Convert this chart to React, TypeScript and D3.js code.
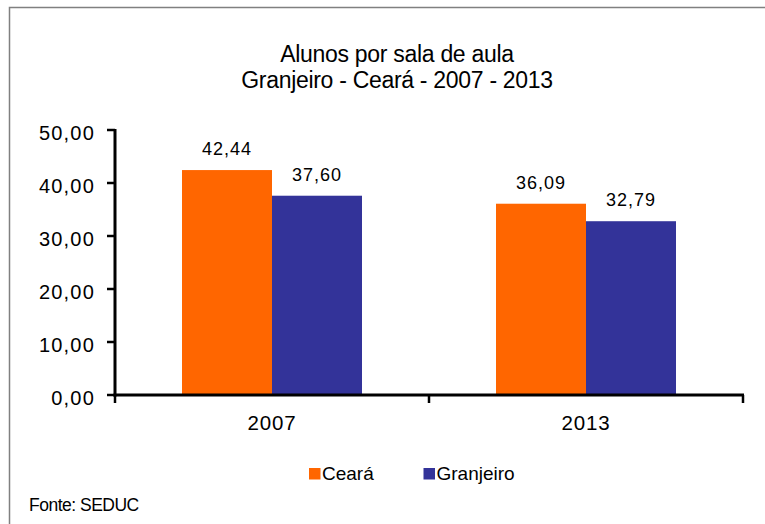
import React from "react";
import * as d3 from "d3";

const categories = ["2007", "2013"];
const seriesNames = ["Ceará", "Granjeiro"];
const cearaValues = [42.44, 36.09];
const granjeiroValues = [37.6, 32.79];
const yTicks = [0, 10, 20, 30, 40, 50];
const colors = ["#FF6600", "#333399"];
const titleLines = ["Alunos por sala de aula", "Granjeiro - Ceará - 2007 - 2013"];
const source = "Fonte: SEDUC";

const fmt = (v: number) => v.toFixed(2).replace(".", ",");

export default function App() {
  const W = 765, H = 524;
  const x0 = 115, x1 = 743, yTop = 130, yBot = 395;
  const y = d3.scaleLinear().domain([0, 50]).range([yBot, yTop]);
  const xBand = d3.scaleBand<string>().domain(categories).range([x0, x1]).paddingInner(0).paddingOuter(0);
  const groupW = 180;
  const xSub = d3.scaleBand<string>().domain(seriesNames).range([0, groupW]).padding(0);
  const values = [cearaValues, granjeiroValues];
  const font = "'Liberation Sans', Arial, sans-serif";

  return (
    <svg width={W} height={H} style={{ position: "absolute", left: 0, top: 0, background: "#fff" }} fontFamily={font}>
      <rect x={0} y={0} width={W} height={H} fill="#fff" />
      <path d="M9.5,530 L9.5,7.5 L770,7.5" fill="none" stroke="#808080" strokeWidth={1.5} />
      {titleLines.map((t, i) => (
        <text key={i} x={397} y={62 + i * 26} textAnchor="middle" fontSize={23} letterSpacing={-0.3} fill="#000">
          {t}
        </text>
      ))}
      {/* bars */}
      {categories.map((c, ci) => {
        const gx = (xBand(c) as number) + xBand.bandwidth() / 2 - groupW / 2;
        return seriesNames.map((s, si) => {
          const v = values[si][ci];
          const bx = gx + (xSub(s) as number);
          return (
            <g key={c + s}>
              <rect x={bx} y={y(v)} width={xSub.bandwidth()} height={yBot - y(v)} fill={colors[si]} />
              <text x={bx + xSub.bandwidth() / 2} y={y(v) - 15} textAnchor="middle" fontSize={18} letterSpacing={1} fill="#000">
                {fmt(v)}
              </text>
            </g>
          );
        });
      })}
      {/* y axis */}
      <line x1={x0} x2={x0} y1={yTop - 1} y2={yBot + 1.5} stroke="#000" strokeWidth={3} />
      {yTicks.map((t) => (
        <g key={t}>
          <line x1={x0 - 8} x2={x0} y1={y(t)} y2={y(t)} stroke="#000" strokeWidth={2.5} />
          <text x={95} y={y(t) + 9.5} textAnchor="end" fontSize={20} letterSpacing={1.2} fill="#000">
            {fmt(t)}
          </text>
        </g>
      ))}
      {/* x axis */}
      <line x1={x0 - 1.5} x2={x1 + 1} y1={yBot} y2={yBot} stroke="#000" strokeWidth={3} />
      {[x0, ...categories.map((c) => (xBand(c) as number) + xBand.bandwidth())].map((tx, i) => (
        <line key={i} x1={tx} x2={tx} y1={yBot} y2={yBot + 8} stroke="#000" strokeWidth={2.5} />
      ))}
      {categories.map((c) => (
        <text key={c} x={(xBand(c) as number) + xBand.bandwidth() / 2} y={430} textAnchor="middle" fontSize={20.5} letterSpacing={0.8} fill="#000">
          {c}
        </text>
      ))}
      {/* legend */}
      {seriesNames.map((s, i) => {
        const lx = [309, 423.5][i];
        return (
          <g key={s}>
            <rect x={lx} y={468} width={11.5} height={11.5} fill={colors[i]} />
            <text x={lx + 13} y={480} fontSize={19} fill="#000">
              {s}
            </text>
          </g>
        );
      })}
      <text x={29} y={511} fontSize={17.5} letterSpacing={-0.5} fill="#000">
        {source}
      </text>
    </svg>
  );
}
